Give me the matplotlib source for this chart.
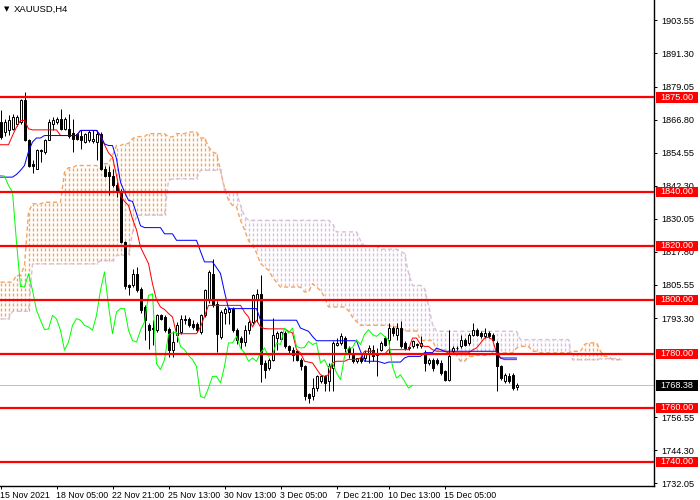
import matplotlib
matplotlib.use('Agg')
import matplotlib.pyplot as plt
from matplotlib.patches import Rectangle
from matplotlib.collections import LineCollection
from matplotlib.transforms import blended_transform_factory
import numpy as np

plt.rcParams['font.family'] = ['Liberation Sans', 'DejaVu Sans']

symbol = 'XAUUSD,H4'

# H4 candles, oldest first
opens = [
    1866.0, 1862.2, 1863.0, 1863.4, 1865.2, 1865.9, 1873.9, 1859.1, 1850.4, 1848.6,
    1855.4, 1854.8, 1859.1, 1865.2, 1865.9, 1867.1, 1863.4, 1863.4, 1862.0, 1861.5,
    1860.9, 1858.5, 1859.1, 1858.9, 1858.5, 1861.5, 1848.6, 1847.3, 1846.0, 1842.4,
    1840.0, 1821.4, 1805.4, 1805.4, 1809.8, 1804.2, 1797.4, 1790.6, 1789.5, 1788.8,
    1794.3, 1793.7, 1789.4, 1781.4, 1787.0, 1788.2, 1793.1, 1793.1, 1791.2, 1791.2,
    1788.2, 1794.3, 1800.0, 1809.8, 1798.6, 1786.3, 1795.0, 1795.6, 1796.8, 1788.8,
    1786.0, 1784.4, 1788.8, 1791.9, 1800.0, 1802.3, 1776.7, 1774.8, 1777.9, 1785.9,
    1785.5, 1787.8, 1782.8, 1781.6, 1781.0, 1777.9, 1775.4, 1765.0, 1764.3, 1767.4,
    1769.9, 1771.7, 1769.9, 1774.8, 1783.5, 1784.1, 1785.9, 1782.2, 1780.4, 1777.3,
    1778.5, 1778.5, 1780.4, 1781.6, 1780.4, 1781.6, 1785.9, 1785.3, 1789.6, 1787.2,
    1789.6, 1784.1, 1782.2, 1782.8, 1783.8, 1782.8, 1780.4, 1776.7, 1777.9, 1777.9,
    1776.7, 1773.6, 1770.5, 1781.0, 1782.2, 1782.8, 1785.3, 1784.1, 1787.2, 1789.0,
    1787.8, 1786.5, 1787.8, 1787.2, 1784.1, 1775.4, 1769.9, 1771.7, 1772.3, 1767.7,
]
highs = [
    1870.2, 1867.1, 1868.5, 1869.0, 1868.4, 1874.5, 1877.0, 1859.7, 1852.0, 1856.0,
    1856.0, 1859.7, 1867.1, 1867.7, 1867.7, 1870.8, 1867.7, 1869.0, 1867.0, 1862.0,
    1862.8, 1861.9, 1862.8, 1862.8, 1862.8, 1862.2, 1849.8, 1849.8, 1848.6, 1843.6,
    1841.2, 1822.0, 1806.0, 1811.5, 1812.2, 1804.8, 1798.0, 1791.5, 1792.5, 1794.9,
    1794.9, 1794.3, 1790.0, 1788.4, 1791.9, 1794.3, 1794.3, 1793.7, 1792.5, 1791.9,
    1794.9, 1804.2, 1811.0, 1815.3, 1799.8, 1796.2, 1797.4, 1797.4, 1797.4, 1789.8,
    1786.5, 1790.9, 1792.5, 1802.3, 1804.2, 1809.1, 1777.9, 1778.5, 1793.3, 1788.4,
    1788.4, 1788.4, 1783.5, 1782.5, 1781.6, 1778.5, 1776.0, 1765.6, 1771.1, 1772.3,
    1772.3, 1772.3, 1776.7, 1784.7, 1785.9, 1787.8, 1786.5, 1782.8, 1782.2, 1778.5,
    1779.1, 1781.6, 1783.5, 1783.5, 1782.2, 1784.7, 1786.5, 1791.5, 1790.2, 1791.5,
    1792.1, 1784.7, 1782.8, 1785.3, 1784.1, 1786.5, 1781.6, 1778.5, 1778.5, 1778.5,
    1777.9, 1774.2, 1789.0, 1782.8, 1782.8, 1787.2, 1785.9, 1787.8, 1791.5, 1789.6,
    1788.4, 1789.6, 1788.4, 1787.8, 1784.7, 1776.0, 1773.0, 1773.0, 1773.0, 1769.3,
]
lows = [
    1859.7, 1860.9, 1861.0, 1862.8, 1864.5, 1865.2, 1859.0, 1849.2, 1847.0, 1848.6,
    1851.0, 1854.2, 1859.1, 1862.8, 1865.2, 1862.8, 1862.8, 1860.0, 1854.8, 1859.1,
    1856.0, 1858.0, 1858.5, 1858.0, 1852.0, 1848.0, 1845.5, 1838.7, 1842.0, 1838.1,
    1821.0, 1804.2, 1801.7, 1804.8, 1803.0, 1795.0, 1785.0, 1782.0, 1783.5, 1788.2,
    1792.5, 1788.2, 1779.0, 1779.0, 1784.4, 1787.5, 1791.2, 1790.0, 1789.4, 1788.2,
    1787.5, 1793.7, 1798.8, 1797.4, 1780.7, 1785.7, 1791.2, 1791.2, 1788.0, 1783.8,
    1782.0, 1783.1, 1787.5, 1791.2, 1791.9, 1769.6, 1771.1, 1774.2, 1777.3, 1781.6,
    1784.7, 1782.2, 1780.4, 1777.5, 1777.3, 1774.2, 1763.1, 1761.9, 1763.1, 1766.2,
    1769.3, 1766.2, 1766.2, 1766.2, 1782.8, 1783.5, 1780.9, 1778.5, 1776.7, 1776.7,
    1776.7, 1777.3, 1776.7, 1777.3, 1771.7, 1781.0, 1783.0, 1780.4, 1786.5, 1785.3,
    1782.2, 1781.6, 1781.6, 1782.2, 1782.2, 1782.2, 1773.6, 1776.0, 1773.6, 1776.0,
    1772.3, 1769.9, 1769.9, 1780.4, 1781.6, 1782.2, 1783.0, 1783.5, 1786.5, 1786.5,
    1785.9, 1785.9, 1785.9, 1784.7, 1766.2, 1770.5, 1769.3, 1769.3, 1766.8, 1766.8,
]
closes = [
    1860.3, 1865.9, 1866.5, 1867.7, 1867.7, 1873.9, 1859.1, 1849.8, 1849.5, 1855.4,
    1855.0, 1859.1, 1865.9, 1866.5, 1867.1, 1863.4, 1867.1, 1860.9, 1859.5, 1859.7,
    1859.1, 1861.5, 1862.2, 1859.7, 1861.5, 1848.6, 1846.1, 1845.9, 1842.4, 1840.0,
    1821.4, 1805.0, 1804.8, 1809.7, 1803.6, 1796.2, 1792.5, 1789.0, 1789.3, 1794.3,
    1793.0, 1788.8, 1781.4, 1784.4, 1790.6, 1793.1, 1792.5, 1790.6, 1790.0, 1788.8,
    1794.3, 1803.6, 1810.4, 1798.0, 1787.5, 1795.6, 1796.8, 1796.8, 1788.8, 1785.0,
    1784.4, 1788.8, 1791.9, 1801.7, 1802.3, 1776.4, 1774.2, 1777.9, 1787.2, 1787.8,
    1788.0, 1782.8, 1781.6, 1779.5, 1777.9, 1775.4, 1764.3, 1763.7, 1767.4, 1771.7,
    1771.7, 1769.3, 1775.4, 1784.1, 1784.1, 1786.5, 1782.2, 1780.4, 1777.3, 1778.5,
    1777.3, 1780.4, 1782.2, 1779.1, 1779.8, 1784.1, 1783.5, 1789.6, 1787.8, 1789.6,
    1782.8, 1782.2, 1782.4, 1784.7, 1783.5, 1784.1, 1776.7, 1777.9, 1774.8, 1776.7,
    1773.0, 1770.5, 1779.1, 1782.2, 1782.3, 1785.3, 1783.5, 1787.2, 1789.0, 1787.2,
    1786.5, 1787.8, 1786.5, 1785.3, 1775.4, 1771.1, 1772.3, 1769.9, 1767.4, 1768.38,
]

# Ichimoku lines (one value per bar)
tenkan = [
    1857.5, 1857.5, 1857.5, 1860.9, 1864.0, 1866.5, 1866.5, 1863.4, 1863.0, 1863.0,
    1863.0, 1863.0, 1863.0, 1863.0, 1863.0, 1860.9, 1860.9, 1860.9, 1860.9, 1860.9,
    1862.8, 1862.8, 1862.8, 1862.8, 1862.8, 1860.9, 1857.5, 1854.5, 1852.9, 1846.1,
    1838.7, 1836.5, 1835.0, 1830.0, 1826.0, 1819.6, 1816.5, 1813.5, 1806.0, 1800.0,
    1797.4, 1796.5, 1795.0, 1793.7, 1787.5, 1787.5, 1787.5, 1787.5, 1787.5, 1787.5,
    1790.0, 1794.0, 1798.0, 1798.0, 1798.0, 1798.0, 1798.0, 1798.0, 1798.0, 1798.0,
    1798.0, 1795.5, 1793.7, 1790.0, 1792.5, 1790.0, 1789.4, 1789.3, 1789.3, 1789.3,
    1789.3, 1789.3, 1788.4, 1787.8, 1781.6, 1780.4, 1777.3, 1777.0, 1776.7, 1774.5,
    1772.3, 1771.7, 1772.3, 1776.7, 1777.3, 1777.3, 1777.3, 1778.0, 1778.0, 1778.0,
    1778.5, 1781.0, 1781.0, 1781.0, 1779.8, 1779.8, 1779.8, 1781.6, 1781.6, 1781.6,
    1781.6, 1781.6, 1781.6, 1785.9, 1785.9, 1783.5, 1782.8, 1782.8, 1781.6, 1781.0,
    1781.0, 1781.0, 1780.4, 1780.4, 1780.4, 1780.4, 1780.4, 1780.4, 1781.5, 1782.2,
    1784.0, 1785.9, 1786.2, 1785.3, 1780.4, 1778.5, 1777.9, 1777.9, 1777.9, 1777.9,
]
kijun = [
    1845.5, 1845.5, 1845.5, 1845.5, 1846.5, 1848.0, 1849.8, 1855.0, 1858.5, 1860.0,
    1860.0, 1860.9, 1860.9, 1860.9, 1860.9, 1860.9, 1860.9, 1860.9, 1860.9, 1860.9,
    1862.8, 1862.8, 1862.8, 1862.8, 1862.8, 1860.9, 1857.8, 1857.2, 1857.2, 1852.3,
    1843.6, 1840.0, 1836.9, 1836.5, 1832.0, 1827.5, 1826.8, 1826.8, 1826.8, 1826.8,
    1826.8, 1824.5, 1824.5, 1824.5, 1822.1, 1822.1, 1822.1, 1822.1, 1822.1, 1822.1,
    1818.0, 1814.1, 1814.1, 1814.1, 1812.0, 1809.8, 1803.0, 1796.8, 1796.8, 1796.8,
    1796.8, 1796.8, 1796.8, 1796.8, 1796.8, 1792.6, 1792.5, 1792.5, 1792.5, 1792.5,
    1792.5, 1792.5, 1792.5, 1792.5, 1792.5, 1789.6, 1789.0, 1788.4, 1786.5, 1784.9,
    1784.9, 1784.9, 1784.9, 1784.9, 1784.9, 1784.9, 1784.9, 1784.9, 1784.9, 1784.9,
    1781.0, 1777.3, 1777.3, 1777.3, 1777.3, 1777.0, 1776.5, 1777.0, 1777.0, 1777.0,
    1777.0, 1778.5, 1779.1, 1779.1, 1779.1, 1779.1, 1780.5, 1780.5, 1780.5, 1782.2,
    1781.6, 1781.0, 1781.0, 1781.0, 1781.0, 1781.0, 1781.0, 1781.0, 1781.0, 1781.0,
    1781.0, 1781.0, 1781.0, 1781.0, 1781.0, 1778.5, 1778.5, 1778.5, 1778.5, 1778.5,
]
# cloud spans run 26 bars past the last candle
span_a = [
    1806.6, 1806.6, 1806.6, 1806.6, 1809.1, 1809.1, 1812.8, 1832.5, 1835.6, 1835.6,
    1835.6, 1836.2, 1836.2, 1836.2, 1836.2, 1836.2, 1847.3, 1849.0, 1849.0, 1849.8,
    1849.8, 1849.8, 1849.8, 1849.8, 1849.8, 1848.6, 1850.5, 1850.5, 1853.5, 1857.2,
    1857.2, 1857.9, 1857.9, 1859.7, 1860.5, 1860.5, 1860.5, 1861.6, 1861.6, 1861.6,
    1861.6, 1861.6, 1860.4, 1860.4, 1861.6, 1861.6, 1861.6, 1862.2, 1862.2, 1862.2,
    1860.0, 1860.0, 1856.7, 1854.8, 1854.2, 1848.0, 1841.5, 1836.9, 1835.0, 1834.4,
    1829.5, 1826.0, 1822.0, 1820.2, 1817.5, 1813.5, 1812.2, 1811.0, 1808.5, 1806.5,
    1804.8, 1804.8, 1804.8, 1804.8, 1804.8, 1804.8, 1803.0, 1803.0, 1806.0, 1804.8,
    1803.5, 1801.1, 1797.4, 1797.4, 1797.4, 1797.4, 1797.4, 1796.0, 1793.7, 1792.0,
    1790.6, 1790.6, 1790.6, 1790.6, 1790.6, 1790.6, 1790.6, 1790.6, 1790.0, 1790.0,
    1790.0, 1788.5, 1788.5, 1788.5, 1788.5, 1785.0, 1785.0, 1785.0, 1785.0, 1781.5,
    1781.5, 1781.5, 1781.5, 1781.5, 1779.5, 1777.3, 1777.3, 1779.1, 1779.1, 1779.5,
    1779.5, 1779.5, 1779.5, 1780.4, 1780.4, 1780.4, 1780.4, 1780.4, 1780.4, 1782.2,
    1782.8, 1782.8, 1782.8, 1781.0, 1781.0, 1780.4, 1780.4, 1780.4, 1780.4, 1780.4,
    1780.4, 1780.4, 1780.4, 1781.0, 1781.0, 1781.0, 1783.5, 1784.1, 1784.1, 1784.1,
    1781.0, 1779.1, 1779.1, 1777.9, 1777.9, 1777.9,
]
span_b = [
    1793.0, 1793.0, 1793.0, 1795.8, 1795.8, 1795.8, 1795.8, 1795.8, 1813.4, 1813.4,
    1813.4, 1813.4, 1813.4, 1813.4, 1813.4, 1813.4, 1813.4, 1813.4, 1813.4, 1813.4,
    1813.4, 1813.4, 1813.4, 1813.4, 1813.4, 1814.6, 1814.6, 1814.6, 1814.6, 1816.5,
    1816.5, 1816.5, 1816.5, 1825.0, 1831.4, 1831.4, 1831.4, 1831.4, 1831.4, 1831.4,
    1831.4, 1831.4, 1844.3, 1844.9, 1844.9, 1844.9, 1844.9, 1844.9, 1844.9, 1844.9,
    1848.0, 1848.0, 1848.0, 1848.0, 1848.0, 1848.5, 1840.6, 1840.0, 1840.0, 1840.0,
    1835.0, 1831.0, 1829.5, 1829.5, 1829.5, 1829.5, 1829.5, 1829.5, 1829.5, 1829.5,
    1829.5, 1829.5, 1829.5, 1829.5, 1829.5, 1829.5, 1829.5, 1829.5, 1829.5, 1829.5,
    1829.5, 1829.5, 1829.5, 1828.3, 1825.2, 1825.2, 1825.2, 1825.2, 1825.2, 1825.2,
    1822.0, 1820.0, 1820.0, 1820.0, 1820.0, 1818.8, 1818.8, 1818.8, 1818.8, 1818.8,
    1818.0, 1817.2, 1810.0, 1805.4, 1805.4, 1805.4, 1804.2, 1798.0, 1790.9, 1788.4,
    1788.4, 1788.4, 1788.4, 1788.4, 1788.4, 1788.4, 1788.4, 1788.4, 1788.4, 1788.4,
    1788.4, 1788.4, 1788.4, 1788.4, 1788.4, 1788.4, 1788.4, 1788.4, 1788.4, 1788.4,
    1785.3, 1785.3, 1785.3, 1785.3, 1785.3, 1785.3, 1785.3, 1785.3, 1785.3, 1785.3,
    1785.3, 1785.3, 1785.3, 1777.9, 1777.9, 1777.9, 1777.9, 1777.9, 1777.9, 1777.9,
    1778.3, 1778.3, 1778.3, 1778.3, 1778.3, 1778.3,
]
chikou_shift = 26

time_labels = ['15 Nov 2021', '18 Nov 05:00', '22 Nov 21:00', '25 Nov 13:00', '30 Nov 13:00',
               '3 Dec 05:00', '7 Dec 21:00', '10 Dec 13:00', '15 Dec 05:00']
time_label_bars = [0, 14, 28, 42, 56, 70, 84, 97, 111]

# 1781.05 and 1768.80 sit fully under the price tags on the reference
price_ticks = [1903.55, 1891.30, 1879.05, 1866.80, 1854.55, 1842.30, 1830.05, 1817.80,
               1805.55, 1793.30, 1756.55, 1744.30, 1732.05]
levels = [1875.00, 1840.00, 1820.00, 1800.00, 1780.00, 1760.00, 1740.00]
last_price = 1768.38

W, H = 700, 500
PX = 0.72  # one pixel in points at dpi 100
Y_BOTTOM, Y_TOP = 1731.1, 1911.1
UNIT = (Y_TOP - Y_BOTTOM) / 486  # price per screen pixel
X_LEFT = -0.125  # bar centres land on pixel centres, 4 px per bar

SANDY = '#F4A460'
THISTLE = '#D8BFD8'


# candles as in the terminal: white body for up bars, black for down bars
def draw_candles(ax):
    for i in range(len(opens)):
        ax.vlines(i, lows[i], highs[i], color='black', linewidth=PX, zorder=3)
        bottom = min(opens[i], closes[i])
        height = max(abs(closes[i] - opens[i]), 0.05)
        face = 'white' if closes[i] >= opens[i] else 'black'
        ax.add_patch(Rectangle((i - 0.25, bottom), 0.5, height, facecolor=face,
                               edgecolor='black', linewidth=PX, zorder=3.5))


# the cloud is a histogram of dashed columns (3 px on, 2 px off) between the spans,
# dashes lined up on one grid for the whole chart
def draw_cloud(ax):
    segs, cols = [], []
    step = 5 * UNIT
    for i in range(len(span_a)):
        a, b = span_a[i], span_b[i]
        lo, hi = min(a, b), max(a, b)
        color = SANDY if a >= b else THISTLE
        y = Y_BOTTOM + np.floor((lo - Y_BOTTOM) / step) * step
        while y < hi:
            y0, y1 = max(y, lo), min(y + 3 * UNIT, hi)
            if y1 > y0:
                segs.append([(i, y0), (i, y1)])
                cols.append(color)
            y += step
    ax.add_collection(LineCollection(segs, colors=cols, linewidths=1.0, snap=True, zorder=1))
    bars = np.arange(len(span_a))
    ax.plot(bars, span_a, color=SANDY, linewidth=1.0, linestyle=(0, (3, 2)), zorder=1.2)
    ax.plot(bars, span_b, color=THISTLE, linewidth=1.0, linestyle=(0, (3, 2)), zorder=1.2)


# coloured price tag on the right scale
def price_tag(ax, fig, price, color):
    tr = blended_transform_factory(fig.transFigure, ax.transData)
    box_h = 10.5 * UNIT
    ax.add_patch(Rectangle((655.5 / W, price - box_h / 2), 42 / W, box_h, transform=tr,
                           facecolor=color, edgecolor='none', clip_on=False, zorder=8))
    ax.text(676.5 / W, price, '{0:.2f}'.format(price), transform=tr, ha='center', va='center',
            color='white', fontsize=6.6, clip_on=False, zorder=9)


fig = plt.figure(figsize=(W / 100, H / 100), dpi=100)
ax = fig.add_axes([0, 14 / H, 654 / W, 486 / H])

draw_cloud(ax)
draw_candles(ax)

bars = np.arange(len(closes))
ax.plot(bars, tenkan, color='#FF0000', linewidth=PX, zorder=4)
ax.plot(bars, kijun, color='#0000FF', linewidth=PX, zorder=4)
ax.plot(bars[:-chikou_shift], closes[chikou_shift:], color='#00FF00', linewidth=PX, zorder=4)

ax.axhline(last_price, color='#C0C0C0', linewidth=PX, zorder=0.5)
for lv in levels:
    ax.axhline(lv, color='#FF0000', linewidth=1.6, zorder=5)
    price_tag(ax, fig, lv, '#FF0000')
price_tag(ax, fig, last_price, 'black')

ax.set_xlim(X_LEFT, X_LEFT + 654 / 4)
ax.set_ylim(Y_BOTTOM, Y_TOP)

for side in ['top', 'left']:
    ax.spines[side].set_visible(False)
for side in ['right', 'bottom']:
    ax.spines[side].set_linewidth(PX * 1.4)

ax.yaxis.tick_right()
ax.set_yticks(price_ticks)
ax.set_yticklabels(['{0:.2f}'.format(p) for p in price_ticks])
ax.tick_params(axis='y', direction='out', length=2.5, width=PX, pad=3, labelsize=6.6)

ax.set_xticks(time_label_bars)
ax.set_xticklabels(time_labels, ha='left')
ax.tick_params(axis='x', direction='out', length=2.5, width=PX, pad=1, labelsize=6.3)

fig.text(4 / W, 1 - 9 / H, '\u25bc', fontsize=5, va='center', ha='left', family='DejaVu Sans')
fig.text(14 / W, 1 - 9 / H, symbol, fontsize=6.8, va='center', ha='left')

fig.savefig('out.png', dpi=100)
